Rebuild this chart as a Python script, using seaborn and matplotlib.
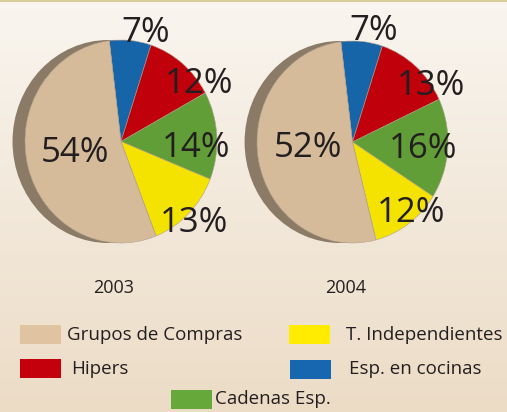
import numpy as np
import matplotlib.pyplot as plt
import seaborn as sns
from matplotlib.patches import Ellipse, Rectangle

# data
categories = ["Grupos de Compras", "Hipers", "Cadenas Esp.", "T. Independientes", "Esp. en cocinas"]
years = ["2003", "2004"]
# slice order on the pie (clockwise from top): blue, red, green, yellow, tan
pie_order = ["Esp. en cocinas", "Hipers", "Cadenas Esp.", "T. Independientes", "Grupos de Compras"]
share_2003 = [7, 12, 14, 13, 54]
share_2004 = [7, 13, 16, 12, 52]

slice_colors = {"Grupos de Compras": "#d5bb9a", "Hipers": "#c0000b", "Cadenas Esp.": "#629e38",
                "T. Independientes": "#f4e200", "Esp. en cocinas": "#1565a8"}
legend_colors = {"Grupos de Compras": "#e0c3a0", "Hipers": "#c4000c", "Cadenas Esp.": "#67a83a",
                 "T. Independientes": "#ffec00", "Esp. en cocinas": "#1667b0"}

sns.set_theme(style="white")
plt.rcParams["font.family"] = ["Open Sans", "DejaVu Sans"]
text_col = "#231f20"

W, H = 507, 412
fig = plt.figure(figsize=(W / 100, H / 100), dpi=100)

# background gradient
bg = fig.add_axes([0, 0, 1, 1])
top = np.array([0xf9, 0xf5, 0xef]) / 255
bot = np.array([0xec, 0xdc, 0xc6]) / 255
t = np.linspace(0, 1, 200)[:, None]
grad = (top * (1 - t) + bot * t)[:, None, :]
bg.imshow(grad, aspect="auto", extent=[0, W, H, 0])
bg.set_xlim(0, W)
bg.set_ylim(H, 0)
bg.axis("off")
bg.add_patch(Rectangle((0, 0), W, 2, color="#d8cd99", lw=0))


def px_axes(x0, y0, x1, y1):
    return fig.add_axes([x0 / W, 1 - y1 / H, (x1 - x0) / W, (y1 - y0) / H])


def draw_pie(box, values):
    ax = px_axes(*box)
    ax.add_patch(Ellipse((-0.13, 0), 2, 2, color="#8b7a66", lw=0, zorder=0, clip_on=False))
    wedges, _ = ax.pie(values, colors=[slice_colors[c] for c in pie_order], startangle=97,
                       counterclock=False, radius=1,
                       wedgeprops=dict(linewidth=0.4, edgecolor="#b0a090"))
    for w in wedges:
        w.set_clip_on(False)
        w.set_zorder(1)
    ax.set_aspect("auto")
    ax.set_xlim(-1, 1)
    ax.set_ylim(-1, 1)
    ax.axis("off")
    return ax


draw_pie((25, 40, 217, 243), share_2003)
draw_pie((257, 41, 448, 243), share_2004)

# overlay for all text
ov = fig.add_axes([0, 0, 1, 1])
ov.set_xlim(0, W)
ov.set_ylim(H, 0)
ov.axis("off")

lab_kw = dict(fontsize=25, color=text_col, ha="center", va="baseline")
labels_2003 = [(146, 42), (199, 93), (196, 157), (194, 232), (75, 162)]
labels_2004 = [(374, 40), (431, 95), (423, 158), (411, 222), (308, 157)]
for (x, y), v in zip(labels_2003, share_2003):
    ov.text(x, y, f"{v}%", **lab_kw)
for (x, y), v in zip(labels_2004, share_2004):
    ov.text(x, y, f"{v}%", **lab_kw)

ov.text(114, 288, years[0], fontsize=13, color=text_col, ha="center", va="center")
ov.text(346, 288, years[1], fontsize=13, color=text_col, ha="center", va="center")

# legend
legend_pos = {"Grupos de Compras": (20, 325, 67), "T. Independientes": (289, 325, 346),
              "Hipers": (20, 359, 71), "Esp. en cocinas": (290, 360, 349),
              "Cadenas Esp.": (171, 390, 215)}
for name in categories:
    x, y, tx = legend_pos[name]
    ov.add_patch(Rectangle((x, y), 41, 19, color=legend_colors[name], lw=0))
    ov.text(tx, y + 9.5, name, fontsize=13.5, color=text_col, ha="left", va="center")

fig.savefig("out.png", dpi=100)
